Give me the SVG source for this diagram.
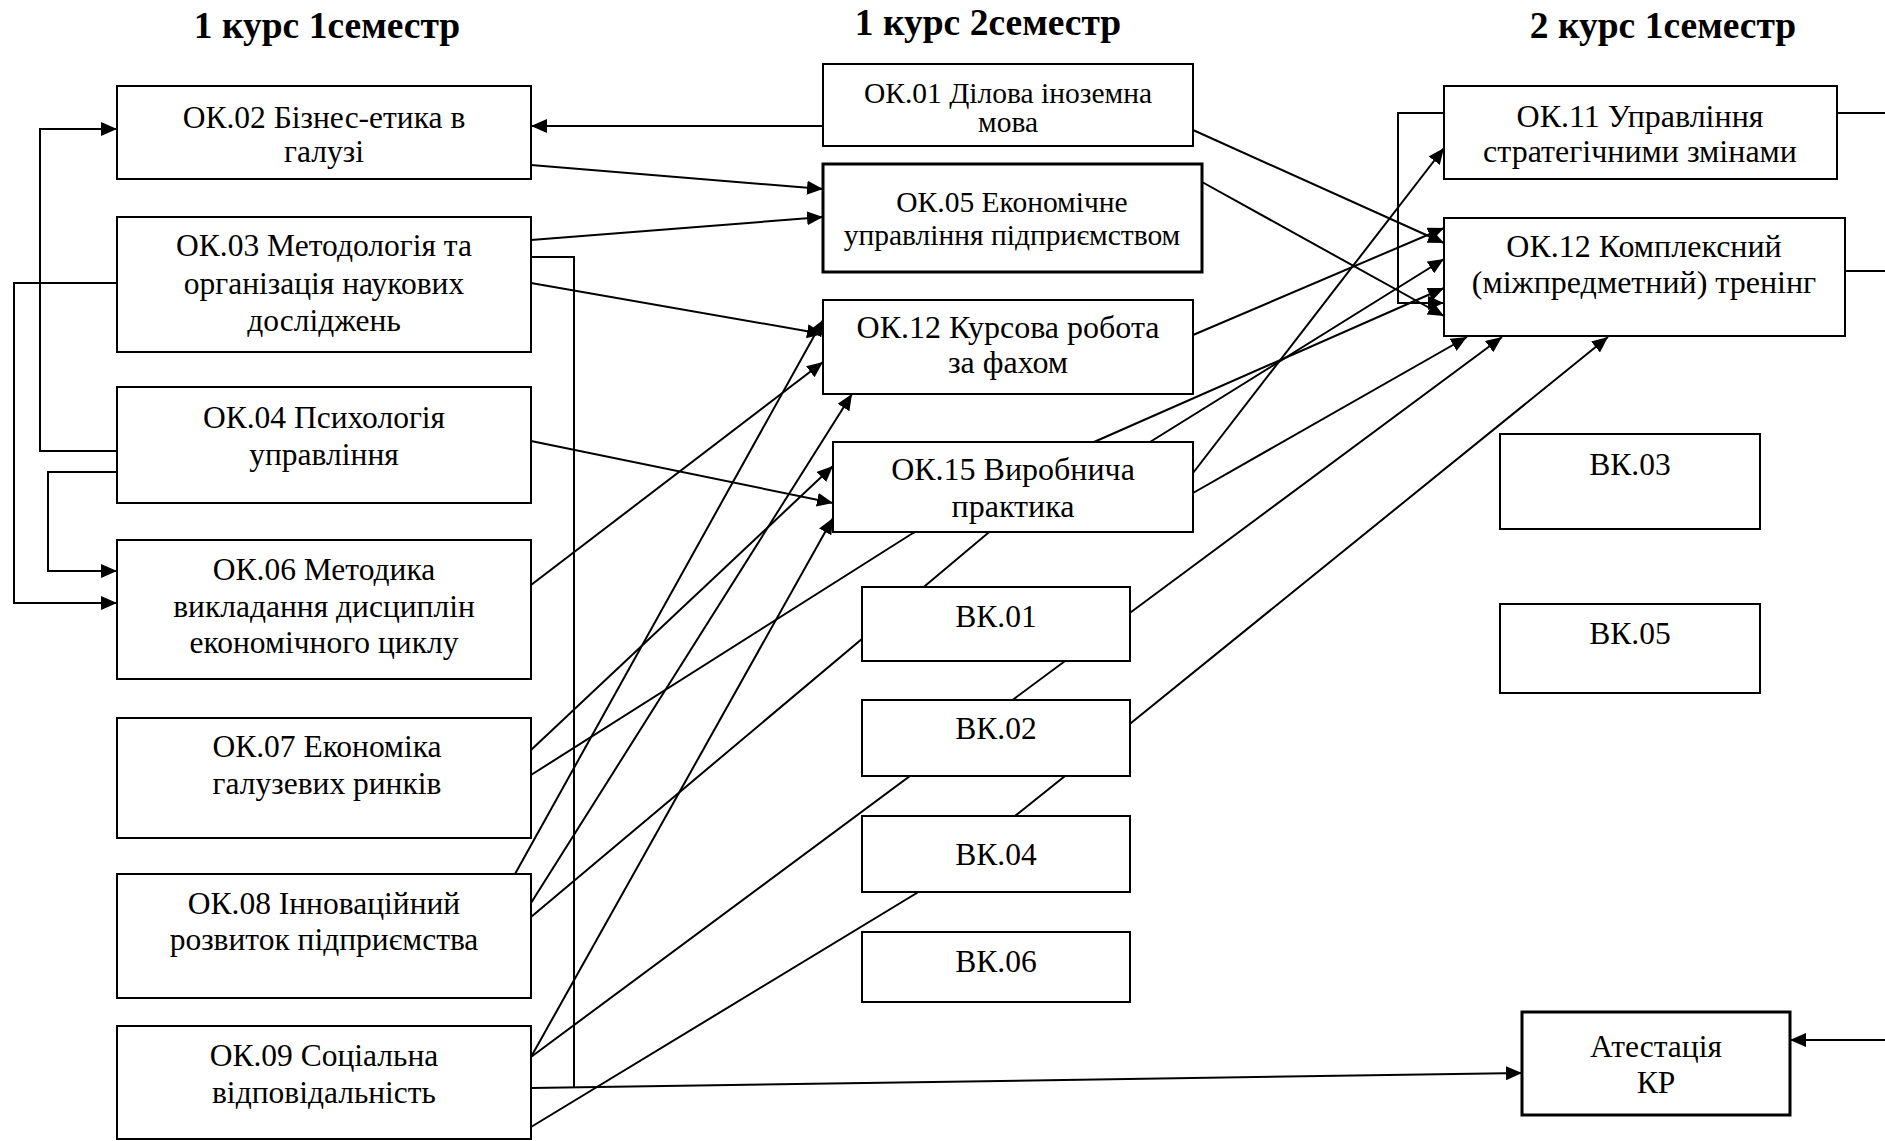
<svg xmlns="http://www.w3.org/2000/svg" width="1885" height="1141" viewBox="0 0 1885 1141">
<defs>
<marker id="ah" viewBox="0 0 16 14" refX="16" refY="7" markerWidth="16" markerHeight="14" markerUnits="userSpaceOnUse" orient="auto">
<path d="M0,0 L16,7 L0,14 z" fill="#000"/>
</marker>
<style>
.box{fill:#fff;stroke:#000;stroke-width:2}
.thick{stroke-width:3}
.c{fill:none;stroke:#000;stroke-width:2}
.a{marker-end:url(#ah)}
</style>
</defs>
<rect width="1885" height="1141" fill="#fff"/>
<g id="headers" font-family="Liberation Serif" font-size="37.5" font-weight="bold" text-anchor="middle">
<text x="327" y="38">1 курс 1семестр</text>
<text x="988" y="35">1 курс 2семестр</text>
<text x="1663" y="38">2 курс 1семестр</text>
</g>
<g id="connectors">
<path class="c a" d="M823,126 L531,126"/>
<path class="c a" d="M531,165 L823,189"/>
<path class="c a" d="M531,240 L823,217"/>
<path class="c a" d="M531,283 L823,334"/>
<path class="c" d="M531,257 L574,257 L574,1087"/>
<path class="c a" d="M531,441 L833,503"/>
<path class="c a" d="M531,585 L823,362"/>
<path class="c a" d="M531,750 L833,466"/>
<path class="c a" d="M531,775 L913,533 L1094,442 L1444,288"/>
<path class="c a" d="M515,874 L823,320"/>
<path class="c a" d="M531,903 L852,394"/>
<path class="c a" d="M531,917 L988,533 L1150,442 L1444,259"/>
<path class="c a" d="M531,1057 L833,518"/>
<path class="c a" d="M531,1057 L1502,337"/>
<path class="c a" d="M531,1088 L1522,1073"/>
<path class="c a" d="M531,1127 L925,888 L1110,740 L1608,337"/>
<path class="c a" d="M1193,130 L1444,243"/>
<path class="c a" d="M1202,182 L1444,316"/>
<path class="c a" d="M1193,335 L1444,228"/>
<path class="c a" d="M1193,473 L1444,148"/>
<path class="c a" d="M1193,493 L1467,337"/>
<path class="c a" d="M1444,113 L1398,113 L1398,303 L1444,303"/>
<path class="c" d="M1837,113 L1885,113"/>
<path class="c" d="M1845,271 L1885,271"/>
<path class="c a" d="M1885,1040 L1790,1040"/>
<path class="c a" d="M117,451 L40,451 L40,129 L117,129"/>
<path class="c a" d="M117,472 L48,472 L48,571 L117,571"/>
<path class="c a" d="M117,283 L14,283 L14,603 L117,603"/>
</g>
<g id="left-nodes" font-family="Liberation Serif" font-size="31.5" text-anchor="middle">
<g id="ok02"><rect class="box" x="117" y="86" width="414" height="93"/><text x="324" y="128">ОК.02 Бізнес-етика в</text><text x="324" y="162">галузі</text></g>
<g id="ok03"><rect class="box" x="117" y="217" width="414" height="135"/><text x="324" y="256">ОК.03 Методологія та</text><text x="324" y="294">організація наукових</text><text x="324" y="331">досліджень</text></g>
<g id="ok04"><rect class="box" x="117" y="387" width="414" height="116"/><text x="324" y="428">ОК.04 Психологія</text><text x="324" y="465">управління</text></g>
<g id="ok06"><rect class="box" x="117" y="540" width="414" height="139"/><text x="324" y="580">ОК.06 Методика</text><text x="324" y="617">викладання дисциплін</text><text x="324" y="653">економічного циклу</text></g>
<g id="ok07"><rect class="box" x="117" y="718" width="414" height="120"/><text x="327" y="757">ОК.07 Економіка</text><text x="327" y="794">галузевих ринків</text></g>
<g id="ok08"><rect class="box" x="117" y="874" width="414" height="124"/><text x="324" y="914">ОК.08 Інноваційний</text><text x="324" y="950">розвиток підприємства</text></g>
<g id="ok09"><rect class="box" x="117" y="1026" width="414" height="113"/><text x="324" y="1066">ОК.09 Соціальна</text><text x="324" y="1103">відповідальність</text></g>
</g>
<g id="other-nodes" font-family="Liberation Serif" font-size="31.5" text-anchor="middle">
<g id="ok01" font-size="29.5"><rect class="box" x="823" y="64" width="370" height="82"/><text x="1008" y="103">ОК.01 Ділова іноземна</text><text x="1008" y="132">мова</text></g>
<g id="ok05" font-size="29.5"><rect class="box thick" x="823" y="164" width="379" height="108"/><text x="1012" y="212">ОК.05 Економічне</text><text x="1012" y="245">управління підприємством</text></g>
<g id="ok12kr" font-size="32"><rect class="box" x="823" y="300" width="370" height="94"/><text x="1008" y="338">ОК.12 Курсова робота</text><text x="1008" y="373">за фахом</text></g>
<g id="ok15" font-size="32"><rect class="box" x="833" y="442" width="360" height="90"/><text x="1013" y="480">ОК.15 Виробнича</text><text x="1013" y="517">практика</text></g>
<g id="vk01"><rect class="box" x="862" y="587" width="268" height="74"/><text x="996" y="627">ВК.01</text></g>
<g id="vk02"><rect class="box" x="862" y="700" width="268" height="76"/><text x="996" y="739">ВК.02</text></g>
<g id="vk04"><rect class="box" x="862" y="816" width="268" height="76"/><text x="996" y="865">ВК.04</text></g>
<g id="vk06"><rect class="box" x="862" y="932" width="268" height="70"/><text x="996" y="972">ВК.06</text></g>
<g id="ok11" font-size="32"><rect class="box" x="1444" y="86" width="393" height="93"/><text x="1640" y="127">ОК.11 Управління</text><text x="1640" y="162">стратегічними змінами</text></g>
<g id="ok12" font-size="32"><rect class="box" x="1444" y="218" width="401" height="118"/><text x="1644" y="257">ОК.12 Комплексний</text><text x="1644" y="293">(міжпредметний) тренінг</text></g>
<g id="vk03"><rect class="box" x="1500" y="434" width="260" height="95"/><text x="1630" y="475">ВК.03</text></g>
<g id="vk05"><rect class="box" x="1500" y="604" width="260" height="89"/><text x="1630" y="644">ВК.05</text></g>
<g id="atest"><rect class="box thick" x="1522" y="1012" width="268" height="103"/><text x="1656" y="1057">Атестація</text><text x="1656" y="1093">КР</text></g>
</g>
</svg>
